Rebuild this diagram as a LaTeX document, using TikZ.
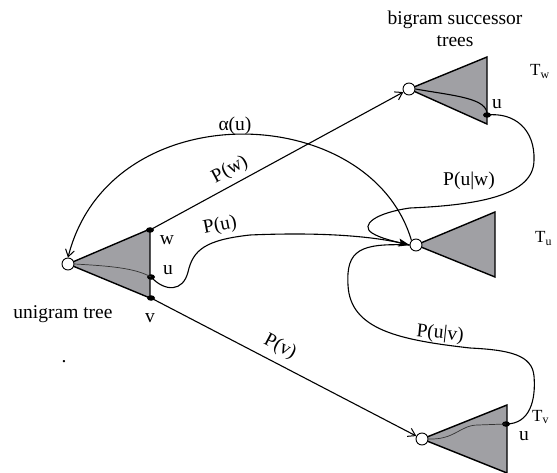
\documentclass[tikz,border=0pt]{standalone}
\usepackage{fontspec}
\setmainfont{Liberation Serif}
\usetikzlibrary{arrows.meta,shapes.geometric}
\definecolor{treegray}{RGB}{160,160,164}
\begin{document}
\begin{tikzpicture}[x=1pt,y=-1pt,
  lbl/.style={font=\fontsize{19.5}{22}\selectfont, inner sep=0pt},
  tlbl/.style={font=\fontsize{17}{20}\selectfont, inner sep=0pt, anchor=base west},
  tree/.style={draw, line width=1.4pt, fill=treegray, line join=miter},
  root/.style={circle, draw, fill=white, line width=0.9pt, minimum size=12pt, inner sep=0pt},
  dotn/.style={ellipse, fill=black, minimum width=8pt, minimum height=5.5pt, inner sep=0pt},
  conn/.style={line width=1.1pt},
  inner/.style={line width=0.7pt, black!80},
  barb/.style={-{Straight Barb[length=7pt,width=9pt,line width=1pt]}},
  fillhead/.style={-{Stealth[length=11pt,width=8pt,inset=2pt]}}
]
\useasboundingbox (0,0) rectangle (557,473);

% tree triangles
\coordinate (uA) at (68,264);
\coordinate (uT) at (150,229);
\coordinate (uB) at (150,298);
\coordinate (wA) at (409,89);
\coordinate (wT) at (487,57);
\coordinate (wB) at (487,124);
\coordinate (tA) at (416,245);
\coordinate (tT) at (495,212);
\coordinate (tB) at (495,277);
\coordinate (vA) at (422,439);
\coordinate (vT) at (507,405);
\coordinate (vB) at (507,473);
\draw[tree] (uA) -- (uT) -- (uB) -- cycle;
\draw[tree] (wA) -- (wT) -- (wB) -- cycle;
\draw[tree] (tA) -- (tT) -- (tB) -- cycle;
\draw[tree] (vA) -- (vT) -- (vB) -- cycle;

% roots
\node[root] (uc) at (uA) {};
\node[root] (wc) at (wA) {};
\node[root] (tc) at (tA) {};
\node[root] (vc) at (vA) {};

% dots
\node[dotn] (uw) at (150,230) {};
\node[dotn] (uu) at (151,277) {};
\node[dotn] (uv) at (151,298) {};
\node[dotn] (wu) at (487,115) {};
\node[dotn] (vu) at (506,424) {};

% inner paths
\draw[inner] (uc.east) .. controls (110,266) and (135,268) .. (uu.center);
\draw[conn] (wc.east) .. controls (455,96) and (488,98) .. (wu.center);
\draw[inner] (vc.east) .. controls (455,440) and (460,425) .. (478,425) -- (vu.center);

% connectors
\draw[conn,barb] (uw.center) -- (wc);
\draw[conn,barb] (uv.center) -- (vc);
\draw[conn,barb] (tc.north west) .. controls (370,100) and (110,92) .. (uc.north);
\draw[conn] (wu.center) .. controls (515,112) and (535,130) .. (534,160)
  .. controls (534,195) and (480,205) .. (410,208)
  .. controls (375,213) and (360,225) .. (372,233)
  .. controls (380,238) and (392,241) .. (tc.west);
\draw[conn] (vu.center) .. controls (530,424) and (536,400) .. (534,376)
  .. controls (532,355) and (510,350) .. (470,348)
  .. controls (400,340) and (350,330) .. (348,285)
  .. controls (346,250) and (360,243) .. (tc.west);
\draw[conn,fillhead] (uu.center) .. controls (165,292) and (183,292) .. (188,272)
  .. controls (193,250) and (205,240) .. (250,235)
  .. controls (320,232) and (370,236) .. (tc.west);

% labels
\node[lbl, anchor=base] (bst) at (455,25) {bigram successor};
\node[lbl, anchor=base] (trs) at (455,47) {trees};
\node[tlbl] (Tw) at (530,76) {T\textsubscript{w}};
\node[tlbl] (Tu) at (535,243) {T\textsubscript{u}};
\node[tlbl] (Tv) at (532,421) {T\textsubscript{v}};
\node[lbl] (lwu) at (497,104) {u};
\node[lbl] (lvu) at (524,436) {u};
\node[lbl] (lw) at (167,240) {w};
\node[lbl] (lu) at (168,270) {u};
\node[lbl] (lv) at (150,318) {v};
\node[lbl, anchor=base] (ugt) at (63,318) {unigram tree};
\node[lbl] (dotp) at (64,362) {.};
\node[lbl] (alpha) at (235,126) {α(u)};
\node[lbl, rotate=28] (pw) at (230,170) {P(w)};
\node[lbl, rotate=11] (pu) at (220,226) {P(u)};
\node[lbl] (puw) at (469,181) {P(u|w)};
\node[lbl, rotate=-28] (pv) at (280,347) {P(v)};
\node[lbl, rotate=-6] (puv) at (440,334) {P(u|v)};
\end{tikzpicture}
\end{document}
